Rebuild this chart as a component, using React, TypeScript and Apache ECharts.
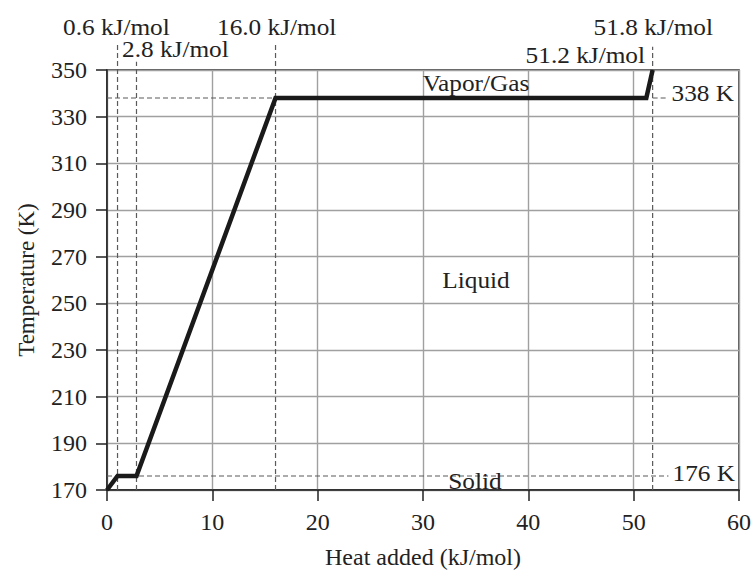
import React, { useEffect, useRef } from "react";
import * as echarts from "echarts";

const heatCurveX = [0, 1.0, 2.8, 16.0, 51.2, 51.8];
const heatCurveY = [170, 176, 176, 338, 338, 350];

const xTicks = { min: 0, max: 60, interval: 10 };
const yTicks = { min: 170, max: 350, interval: 20 };

const vDashX = [1.0, 2.8, 16.0, 51.8];
const vDashTop = [361, 353.5, 361, 360];
const vDashBottom = 170;

const hDash338 = [[0, 16.0], [51.8, 53.3]];
const hDash176 = [[0, 53.3]];

const FONT = "'Liberation Serif', 'DejaVu Serif', serif";

export default function App() {
  const ref = useRef<HTMLDivElement>(null);
  useEffect(() => {
    const chart = echarts.init(ref.current!, undefined, { renderer: "svg" });
    const dashStyle = { color: "#5a5a5a", width: 1.2, type: [5, 3] as any };
    const series: any[] = [];
    vDashX.forEach((x, i) => {
      series.push({
        type: "line",
        data: [[x, vDashBottom], [x, vDashTop[i]]],
        symbol: "none",
        clip: false,
        lineStyle: dashStyle,
        z: 2,
      });
    });
    hDash338.forEach((seg) => {
      series.push({
        type: "line",
        data: [[seg[0], 338], [seg[1], 338]],
        symbol: "none",
        clip: false,
        lineStyle: dashStyle,
        z: 2,
      });
    });
    hDash176.forEach((seg) => {
      series.push({
        type: "line",
        data: [[seg[0], 176], [seg[1], 176]],
        symbol: "none",
        clip: false,
        lineStyle: dashStyle,
        z: 2,
      });
    });
    series.push({
      type: "line",
      data: heatCurveX.map((x, i) => [x, heatCurveY[i]]),
      symbol: "none",
      clip: false,
      lineStyle: { color: "#1a1a1a", width: 4.5, join: "miter" },
      z: 5,
    });

    const txt = (text: string, x: number, y: number, align = "left", size = 23) => ({
      type: "text",
      x,
      y,
      scaleX: 1.1,
      z: 10,
      style: {
        text,
        fill: "#222",
        fontSize: size,
        fontFamily: FONT,
        textAlign: align,
        textVerticalAlign: "middle",
      },
    });

    chart.setOption({
      animation: false,
      grid: {
        left: 107,
        right: 17,
        top: 70,
        bottom: 83,
        show: true,
        borderColor: "#222",
        borderWidth: 1.5,
      },
      xAxis: {
        type: "value",
        min: xTicks.min,
        max: xTicks.max,
        interval: xTicks.interval,
        name: "Heat added (kJ/mol)",
        nameLocation: "middle",
        nameGap: 55,
        nameTextStyle: { fontFamily: FONT, fontSize: 24, color: "#222" },
        axisLine: { show: true, lineStyle: { color: "#222", width: 1.5 } },
        axisTick: { show: true, length: 11, lineStyle: { color: "#222", width: 1.5 } },
        axisLabel: { fontFamily: FONT, fontSize: 24, color: "#222", margin: 20 },
        splitLine: { show: true, lineStyle: { color: "#a0a0a0", width: 1.4 } },
      },
      yAxis: {
        type: "value",
        min: yTicks.min,
        max: yTicks.max,
        interval: yTicks.interval,
        name: "Temperature (K)",
        nameLocation: "middle",
        nameGap: 69,
        nameTextStyle: { fontFamily: FONT, fontSize: 23, color: "#222" },
        axisLine: { show: true, lineStyle: { color: "#222", width: 1.5 } },
        axisTick: { show: true, length: 11, lineStyle: { color: "#222", width: 1.5 } },
        axisLabel: { fontFamily: FONT, fontSize: 24, color: "#222", margin: 20 },
        splitLine: { show: true, lineStyle: { color: "#a0a0a0", width: 1.4 } },
      },
      series,
      graphic: [
        txt("0.6 kJ/mol", 63, 27),
        txt("2.8 kJ/mol", 122, 49),
        txt("16.0 kJ/mol", 217, 27),
        txt("51.8 kJ/mol", 713, 27, "right"),
        txt("51.2 kJ/mol", 645, 55, "right"),
        txt("Vapor/Gas", 476, 83, "center"),
        txt("Liquid", 476, 280, "center"),
        txt("Solid", 475, 481, "center"),
        txt("338 K", 734, 93, "right"),
        txt("176 K", 735, 473, "right"),
      ],
    });
    return () => chart.dispose();
  }, []);
  return (
    <div
      ref={ref}
      style={{ position: "absolute", left: 0, top: 0, width: 756, height: 574 }}
    />
  );
}
